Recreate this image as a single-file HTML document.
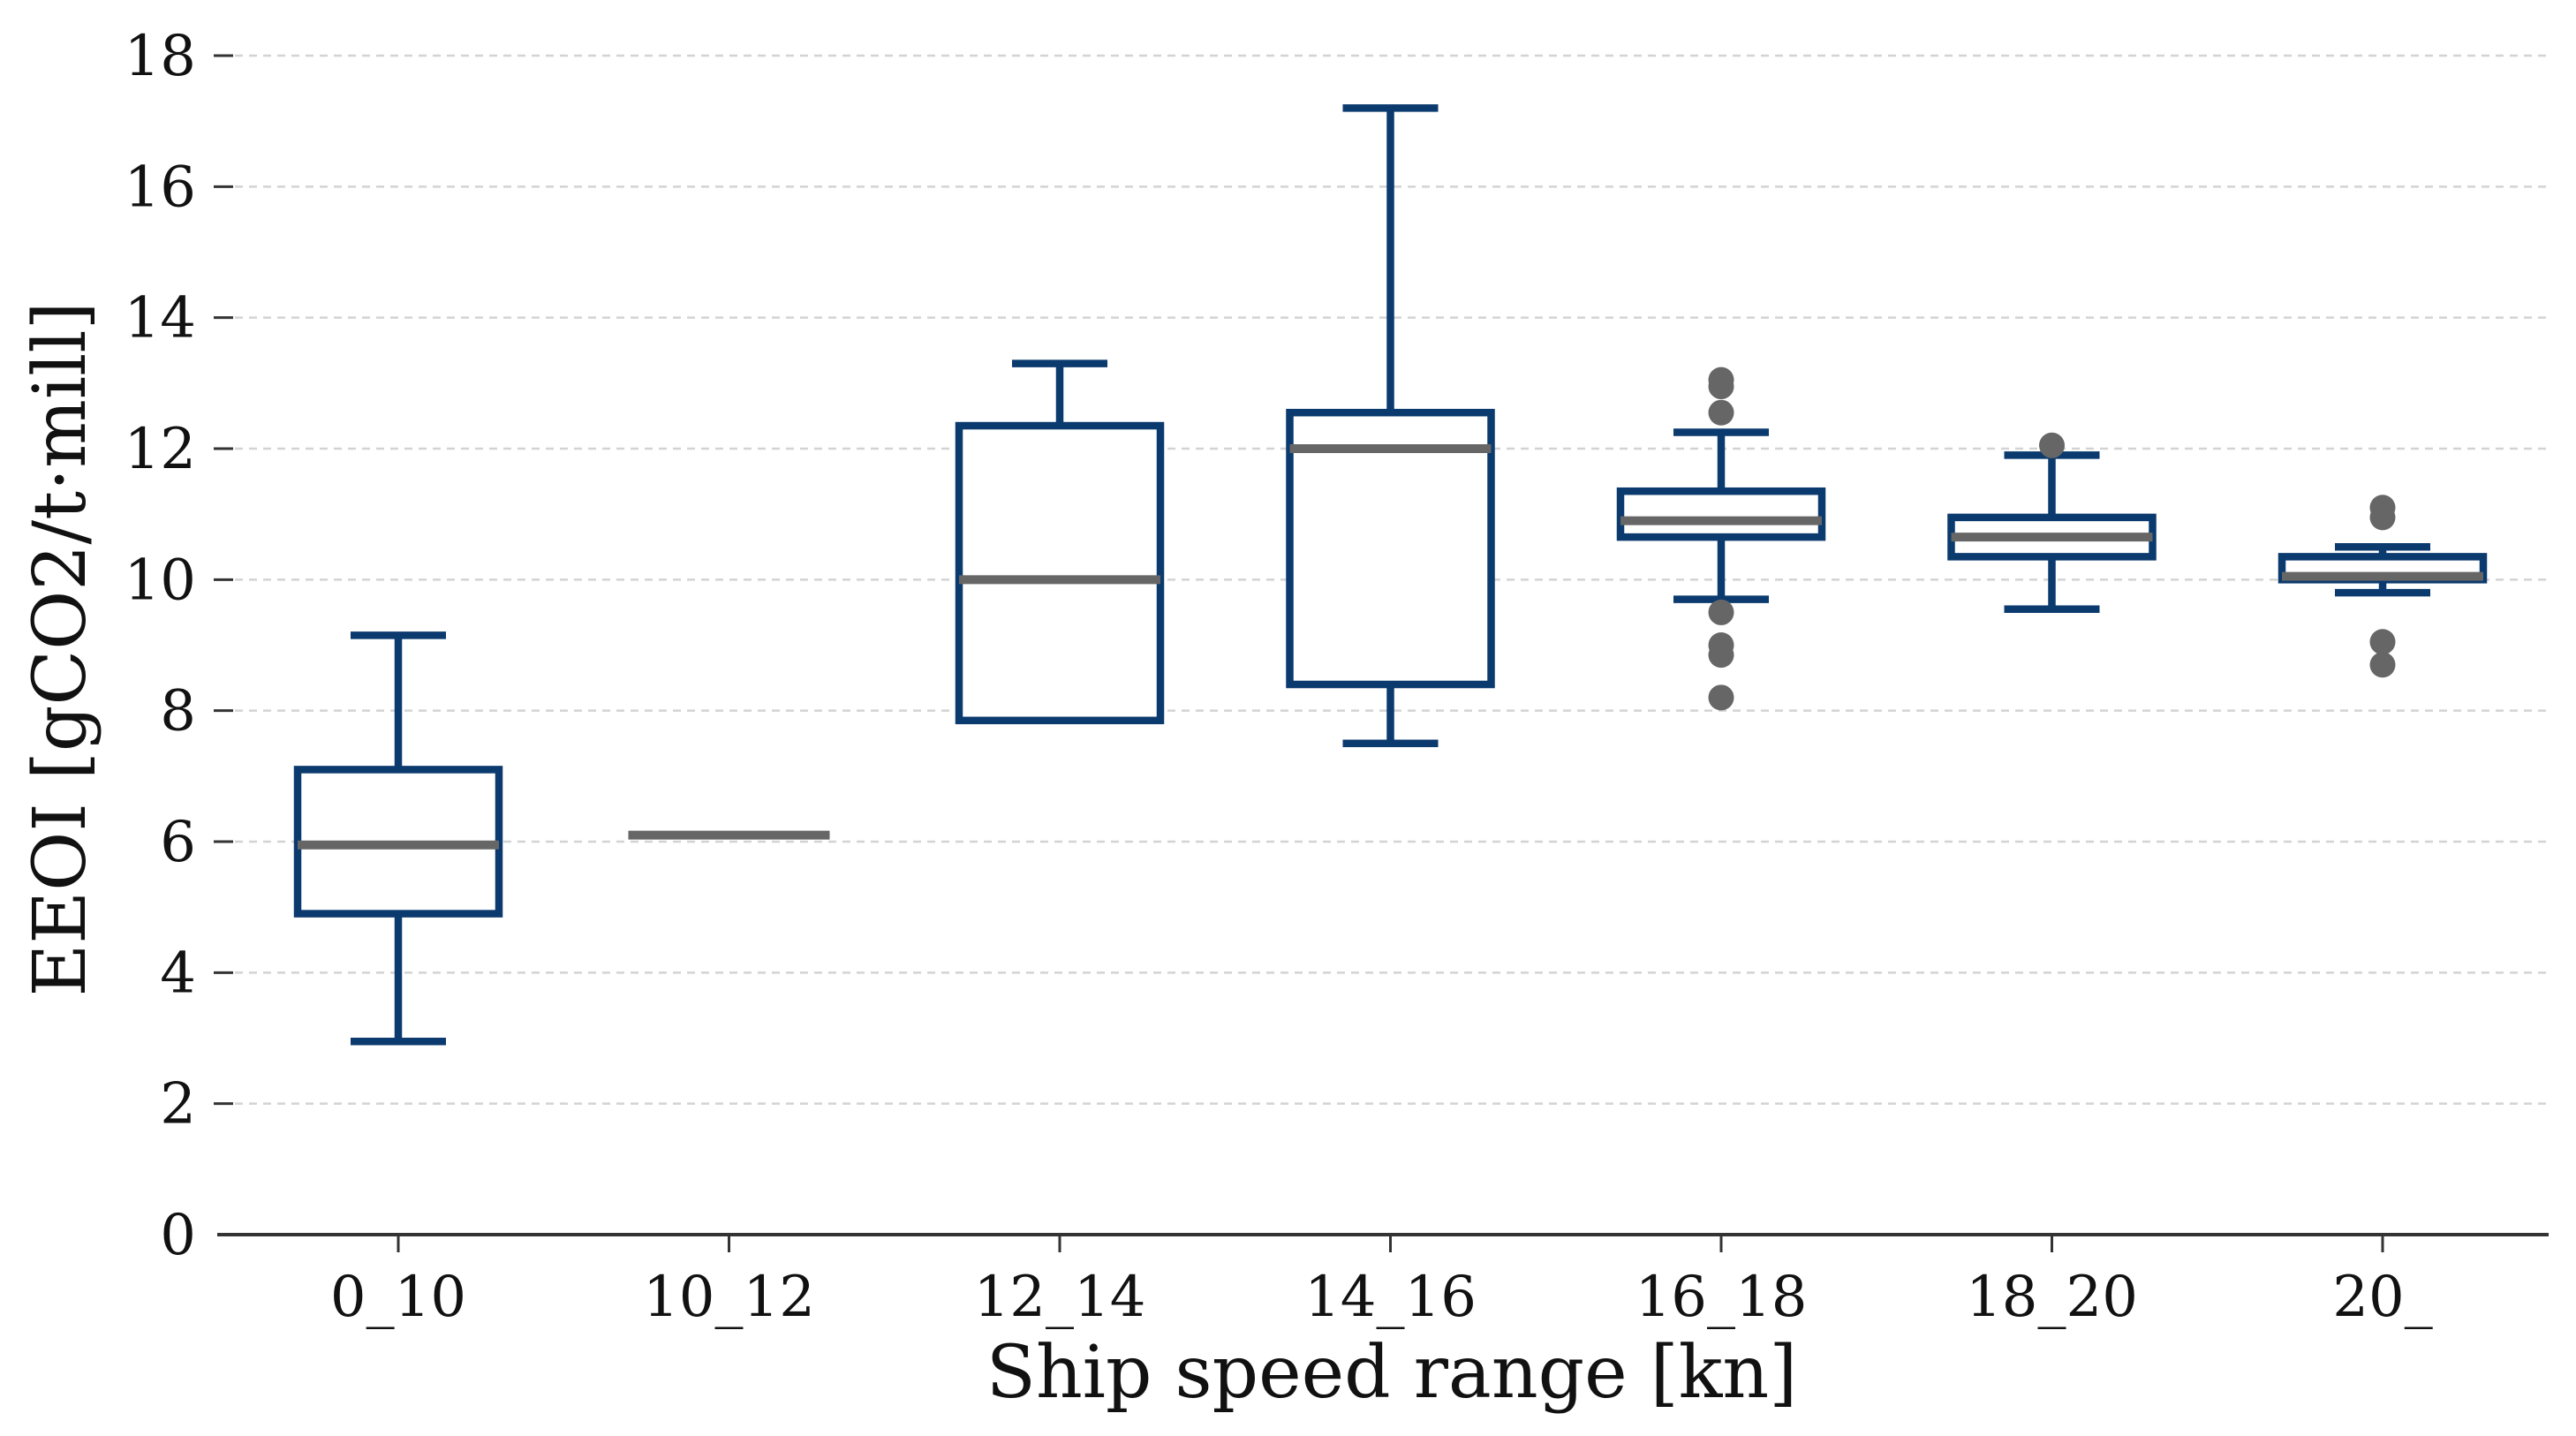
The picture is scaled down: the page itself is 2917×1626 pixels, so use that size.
<!DOCTYPE html>
<html><head><meta charset="utf-8"><style>
html,body{margin:0;padding:0;background:#fff;}
svg{display:block;font-family:"DejaVu Serif","Liberation Serif",serif;}
</style></head><body>
<svg id="chart" width="2917" height="1626" viewBox="0 0 2917 1626" xmlns="http://www.w3.org/2000/svg">
<g id="grid"></g>
<g id="yaxis"></g>
<g id="xaxis"></g>
<g id="boxes"></g>
<text transform="translate(96,735) rotate(-90)" text-anchor="middle" font-size="82" fill="#111">EEOI [gCO2/t·mill]</text>
<text x="1576" y="1582" text-anchor="middle" font-size="82" fill="#111">Ship speed range [kn]</text>
</svg>
<script>
const categories=["0_10","10_12","12_14","14_16","16_18","18_20","20_"];
const whiskerLow=[2.95,6.1,7.85,7.5,9.7,9.55,9.8];
const q1=[4.9,6.1,7.85,8.4,10.65,10.35,10.0];
const median=[5.95,6.1,10.0,12.0,10.9,10.65,10.05];
const q3=[7.1,6.1,12.35,12.55,11.35,10.95,10.35];
const whiskerHigh=[9.15,6.1,13.3,17.2,12.25,11.9,10.5];
const fliers=[[],[],[],[],[13.05,12.95,12.55,9.5,9.0,8.85,8.2],[12.05],[11.1,10.95,9.05,8.7]];
const yTicks=[0,2,4,6,8,10,12,14,16,18];

const NS="http://www.w3.org/2000/svg";
const x0=246,x1=2886,yZero=1398,yTop=63,yMax=18;
function Y(v){return yZero-(v/yMax)*(yZero-yTop);}
const step=374.5,firstX=451;
function X(i){return firstX+i*step;}
function mk(p,tag,attrs){const e=document.createElementNS(NS,tag);for(const k in attrs)e.setAttribute(k,attrs[k]);p.appendChild(e);return e;}
const grid=document.getElementById('grid'),ya=document.getElementById('yaxis'),xa=document.getElementById('xaxis'),bx=document.getElementById('boxes');
yTicks.forEach(t=>{
  if(t>0){const g=mk(grid,'line',{x1:x0+20,x2:x1,y1:Y(t),y2:Y(t),stroke:'#d3d3d3','stroke-width':2.5,'stroke-dasharray':'9,7'});
  
  
  const tk=mk(ya,'line',{x1:242,x2:264,y1:Y(t),y2:Y(t),stroke:'#333','stroke-width':3});
  
  }
  const lb=mk(ya,'text',{x:222,y:Y(t)+22,'text-anchor':'end','font-size':64,fill:'#111'});
  lb.textContent=t;
  
  
});
const ax=mk(xa,'line',{x1:x0,x2:x1,y1:yZero,y2:yZero,stroke:'#333','stroke-width':4});


categories.forEach((c,i)=>{
  const tk=mk(xa,'line',{x1:X(i),x2:X(i),y1:yZero,y2:yZero+20,stroke:'#333','stroke-width':3});
  
  
  const lb=mk(xa,'text',{x:X(i),y:1490,'text-anchor':'middle','font-size':64,fill:'#111'});
  lb.textContent=c;
  
  
  const g=mk(bx,'g',{});
  
  
  const cx=X(i),hw=114,cw=54,col='#0b3a6e',sw=8.5;
  if(q3[i]-q1[i]>0.01){
    mk(g,'line',{x1:cx,x2:cx,y1:Y(q1[i]),y2:Y(whiskerLow[i]),stroke:col,'stroke-width':sw});
    mk(g,'line',{x1:cx,x2:cx,y1:Y(q3[i]),y2:Y(whiskerHigh[i]),stroke:col,'stroke-width':sw});
    if(q1[i]-whiskerLow[i]>0.01)mk(g,'line',{x1:cx-cw,x2:cx+cw,y1:Y(whiskerLow[i]),y2:Y(whiskerLow[i]),stroke:col,'stroke-width':sw});
    mk(g,'line',{x1:cx-cw,x2:cx+cw,y1:Y(whiskerHigh[i]),y2:Y(whiskerHigh[i]),stroke:col,'stroke-width':sw});
    mk(g,'rect',{x:cx-hw,y:Y(q3[i]),width:2*hw,height:Y(q1[i])-Y(q3[i]),fill:'#fff',stroke:col,'stroke-width':sw});
  }
  mk(g,'line',{x1:cx-hw,x2:cx+hw,y1:Y(median[i]),y2:Y(median[i]),stroke:'#666','stroke-width':10});
  fliers[i].forEach(v=>{const f=mk(g,'circle',{cx:cx,cy:Y(v),r:14.5,fill:'#666'});
    
    });
});
</script>
</body></html>
